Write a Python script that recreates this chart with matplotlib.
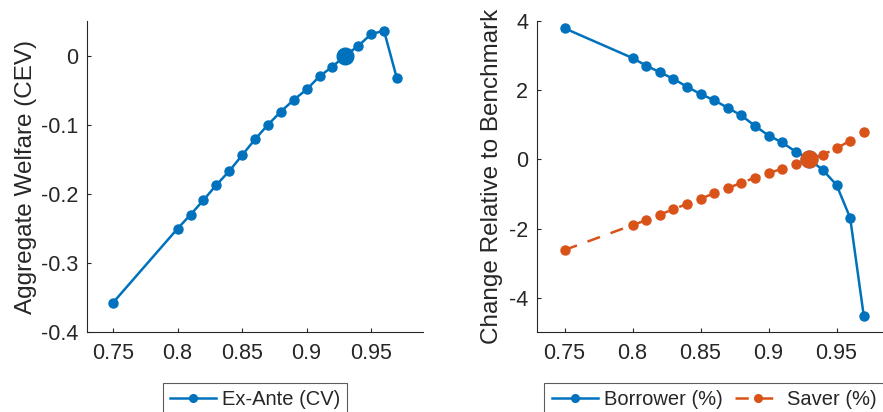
import matplotlib
matplotlib.use("Agg")
import matplotlib.pyplot as plt

# Data
rho = [0.75, 0.80, 0.81, 0.82, 0.83, 0.84, 0.85, 0.86, 0.87, 0.88,
       0.89, 0.90, 0.91, 0.92, 0.93, 0.94, 0.95, 0.96, 0.97]
welfare_cv = [-0.357, -0.250, -0.230, -0.209, -0.187, -0.167, -0.144, -0.121, -0.100, -0.081,
              -0.064, -0.049, -0.030, -0.016, 0.000, 0.014, 0.031, 0.036, -0.033]
borrower = [3.79, 2.93, 2.71, 2.52, 2.33, 2.10, 1.89, 1.71, 1.49, 1.27,
            0.97, 0.69, 0.49, 0.22, 0.00, -0.31, -0.74, -1.69, -4.52]
saver = [-2.62, -1.90, -1.76, -1.60, -1.44, -1.29, -1.14, -0.98, -0.83, -0.68,
         -0.53, -0.40, -0.27, -0.13, 0.00, 0.14, 0.32, 0.54, 0.78]
bench_x = 0.93
bench_welfare = 0.0
bench_change = 0.0

xticks = [0.75, 0.8, 0.85, 0.9, 0.95]
xticklabels = ["0.75", "0.8", "0.85", "0.9", "0.95"]
left_yticks = [-0.4, -0.3, -0.2, -0.1, 0]
left_yticklabels = ["-0.4", "-0.3", "-0.2", "-0.1", "0"]
right_yticks = [-4, -2, 0, 2, 4]
right_yticklabels = ["-4", "-2", "0", "2", "4"]

blue = "#0072BD"
orange = "#D95319"
ink = "#262626"

plt.rcParams["font.family"] = ["Liberation Sans", "DejaVu Sans"]
plt.rcParams["text.color"] = ink
plt.rcParams["axes.labelcolor"] = ink

fig = plt.figure(figsize=(8.83, 4.12), dpi=100)
ax1 = fig.add_axes([0.0989, 0.1934, 0.3798, 0.7556])
ax2 = fig.add_axes([0.6085, 0.1934, 0.4005, 0.7556])

lw = 1.8
ms = 6.5

ax1.plot(rho, welfare_cv, "-o", color=blue, lw=lw, ms=ms, mew=1,
         label="Ex-Ante (CV)", clip_on=False)
ax1.plot([bench_x], [bench_welfare], "o", color=blue, ms=12, mew=1, clip_on=False)

ax2.plot(rho, borrower, "-o", color=blue, lw=lw, ms=ms, mew=1,
         label="Borrower (%)", clip_on=False)
ax2.plot(rho, saver, marker="o", color=orange, lw=lw, ms=ms, mew=1,
         linestyle=(0, (5.3, 4.5)), label="Saver (%)", clip_on=False)
ax2.plot([bench_x], [bench_change], "o", color=blue, ms=12, mew=1, clip_on=False)
ax2.plot([bench_x], [bench_change], "o", color=orange, ms=12, mew=1, clip_on=False)

ax1.set_xlim(0.73, 0.99)
ax1.set_ylim(-0.4, 0.05)
ax2.set_xlim(0.73, 0.99)
ax2.set_ylim(-5, 4)

ax1.set_yticks(left_yticks)
ax1.set_yticklabels(left_yticklabels)
ax2.set_yticks(right_yticks)
ax2.set_yticklabels(right_yticklabels)

for ax in (ax1, ax2):
    ax.set_xticks(xticks)
    ax.set_xticklabels(xticklabels)
    for side in ("top", "right"):
        ax.spines[side].set_visible(False)
    for side in ("left", "bottom"):
        ax.spines[side].set_color(ink)
        ax.spines[side].set_linewidth(0.8)
    ax.tick_params(direction="in", length=3, width=0.8, color=ink,
                   labelcolor=ink, labelsize=15.5)
    ax.tick_params(axis="x", pad=8)
    ax.tick_params(axis="y", pad=6.5)

ax1.set_ylabel("Aggregate Welfare (CEV)", fontsize=17.5)
ax2.set_ylabel("Change Relative to Benchmark", fontsize=17.5)
ax1.yaxis.set_label_coords(-0.150, 0.5)
ax2.yaxis.set_label_coords(-0.097, 0.5)

leg_kw = dict(loc="upper center", fontsize=14.5, frameon=True, fancybox=False,
              borderaxespad=0, handlelength=2.3, handletextpad=0.3,
              borderpad=0.35, markerscale=0.85)
leg1 = ax1.legend(bbox_to_anchor=(0.5, -0.162), **leg_kw)
leg2 = ax2.legend(bbox_to_anchor=(0.5, -0.162), ncol=2, columnspacing=0.6, **leg_kw)
for leg in (leg1, leg2):
    leg.get_frame().set_edgecolor("#333333")
    leg.get_frame().set_linewidth(0.8)

fig.savefig("out.png", dpi=100)
